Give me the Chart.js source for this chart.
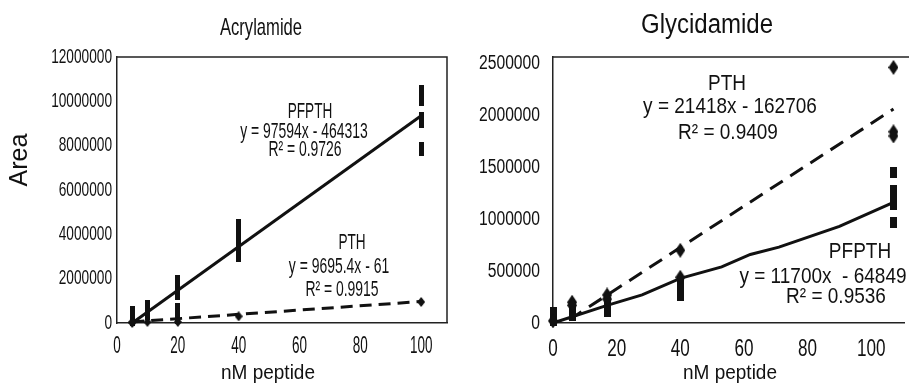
<!DOCTYPE html>
<html>
<head>
<meta charset="utf-8">
<script src="https://cdn.jsdelivr.net/npm/chart.js@4/dist/chart.umd.min.js"></script>
<style>
  body { margin: 0; background: #fff; }
  #wrap { position: relative; width: 909px; height: 388px; overflow: hidden; }
  #acryl { position: absolute; left: 0; top: 0; }
  #glycid { position: absolute; left: 452px; top: 0; }
</style>
</head>
<body>
<div id="wrap">
  <canvas id="acryl" width="452" height="388"></canvas>
  <canvas id="glycid" width="457" height="388"></canvas>
</div>
<script>
//-----------------------------------------------------------------------------
// Data
//-----------------------------------------------------------------------------

// Acrylamide: nM peptide vs peak area, replicate values per concentration
var acrylConc = [5, 10, 20, 40, 100];
var acrylPfpth = [
  [600000, 400000, 200000, 50000],
  [850000, 600000, 300000],
  [2000000, 1750000, 1450000, 1200000, 700000, 400000, 150000],
  [4500000, 4200000, 3900000, 3550000, 3200000, 2950000],
  [10550000, 10250000, 9950000, 9350000, 9000000, 8000000, 7700000]
];
var acrylPth = [
  [0, 50000],
  [50000],
  [50000],
  [300000],
  [950000]
];
var acrylPfpthFitX = [5, 100];
var acrylPfpthFitY = [0, 9350000];
var acrylPthFitX = [5, 100];
var acrylPthFitY = [50000, 970000];

// Glycidamide
var glyConc = [0, 6, 17, 40, 107];
var glyPth = [
  [20000],
  [200000, 170000],
  [270000, 230000],
  [700000, 440000],
  [2460000, 1840000, 1800000]
];
var glyPfpth = [
  [100000, 60000, 20000],
  [150000, 110000, 70000],
  [200000, 150000, 110000],
  [380000, 320000, 260000],
  [1450000, 1280000, 1200000, 1140000, 970000]
];
var glyPthFitX = [5, 107];
var glyPthFitY = [30000, 2060000];
var glyPfpthFitX = [0, 17, 28, 40, 53, 62, 71, 90, 107];
var glyPfpthFitY = [0, 170000, 270000, 430000, 540000, 660000, 730000, 930000, 1160000];

// tick labels
var acrylXTicks = [0, 20, 40, 60, 80, 100];
var acrylYTicks = [0, 2000000, 4000000, 6000000, 8000000, 10000000, 12000000];
var glyXTicks = [0, 20, 40, 60, 80, 100];
var glyYTicks = [0, 500000, 1000000, 1500000, 2000000, 2500000];

//-----------------------------------------------------------------------------
// Helpers
//-----------------------------------------------------------------------------

var INK = '#111';
var FONT = "'Liberation Sans', Arial, sans-serif";

var toPoints = function(xs, groups) {
  var pts = [];
  xs.forEach(function(x, i) {
    groups[i].forEach(function(y) { pts.push({x: x, y: y}); });
  });
  return pts;
};

var toLine = function(xs, ys) {
  return xs.map(function(x, i) { return {x: x, y: ys[i]}; });
};

// scanned markers are taller than wide, so build them as small images
var diamondMark = function(w, h) {
  var c = document.createElement('canvas');
  c.width = w; c.height = h;
  var g = c.getContext('2d');
  g.fillStyle = INK;
  g.beginPath();
  g.moveTo(w / 2, 0); g.lineTo(w, h / 2); g.lineTo(w / 2, h); g.lineTo(0, h / 2);
  g.closePath();
  g.fill();
  return c;
};

var boxMark = function(w, h) {
  var c = document.createElement('canvas');
  c.width = w; c.height = h;
  var g = c.getContext('2d');
  g.fillStyle = INK;
  g.fillRect(0, 0, w, h);
  return c;
};

// the scan's lettering is narrow and tall: squeeze/stretch the glyphs
var drawText = function(ctx, t) {
  ctx.save();
  ctx.translate(t.x, t.y);
  if (t.rotate) ctx.rotate(t.rotate);
  ctx.scale(t.sx || 1, t.sy || 1);
  ctx.font = t.size + 'px ' + FONT;
  ctx.fillStyle = INK;
  ctx.textAlign = t.align || 'center';
  ctx.textBaseline = 'middle';
  ctx.fillText(t.text, 0, 0);
  ctx.restore();
};

// titles, equations, tick labels and frame lines
var decorPlugin = {
  id: 'decor',
  afterDraw: function(chart, args, opts) {
    var ctx = chart.ctx, a = chart.chartArea;
    var xs = chart.scales.x, ys = chart.scales.y;

    ctx.save();
    ctx.strokeStyle = '#222';
    ctx.lineWidth = 1.5;
    ctx.beginPath();
    ctx.moveTo(a.left, a.top);
    ctx.lineTo(opts.rightBorder ? a.right : chart.width, a.top);
    if (opts.rightBorder) {
      ctx.lineTo(a.right, a.bottom);
    }
    ctx.stroke();
    ctx.restore();

    xs.ticks.forEach(function(t) {
      drawText(ctx, {
        text: String(t.value), x: xs.getPixelForValue(t.value), y: opts.xLabel.y,
        size: opts.xLabel.size, sx: opts.xLabel.sx, sy: opts.xLabel.sy
      });
    });
    ys.ticks.forEach(function(t) {
      drawText(ctx, {
        text: String(t.value), x: a.left - opts.yLabel.pad, y: ys.getPixelForValue(t.value),
        size: opts.yLabel.size, sx: opts.yLabel.sx, sy: opts.yLabel.sy, align: 'right'
      });
    });

    (opts.texts || []).forEach(function(t) { drawText(ctx, t); });
  }
};

var setTicks = function(list) {
  return function(scale) {
    scale.ticks = list.map(function(v) { return {value: v}; });
  };
};

var buildChart = function(el, cfg) {
  var lineSet = function(data, dash) {
    return {
      data: data, showLine: true, pointRadius: 0, borderColor: INK,
      borderWidth: 3, borderDash: dash, clip: false
    };
  };
  var markSet = function(data, mark) {
    return {
      data: data, pointStyle: mark, pointRadius: 4, clip: false,
      backgroundColor: INK, borderColor: INK
    };
  };

  return new Chart(el, {
    type: 'scatter',
    data: {
      datasets: [
        markSet(cfg.diamonds, cfg.diamondMark),
        markSet(cfg.boxes, cfg.boxMark),
        lineSet(cfg.solid, []),
        lineSet(cfg.dashed, cfg.dash)
      ]
    },
    options: {
      responsive: false,
      animation: false,
      layout: { padding: { top: 57, right: cfg.padRight, left: 0, bottom: 0 } },
      plugins: {
        legend: { display: false },
        tooltip: { enabled: false },
        decor: {
          texts: cfg.texts, rightBorder: cfg.rightBorder,
          xLabel: cfg.xLabel, yLabel: cfg.yLabel
        }
      },
      scales: {
        x: {
          type: 'linear', min: 0, max: cfg.xMax,
          grid: { display: false, drawTicks: false },
          border: { display: true, color: '#222', width: 1.5 },
          ticks: { display: false },
          afterBuildTicks: setTicks(cfg.xTicks),
          afterFit: function(s) { s.height = 65; }
        },
        y: {
          min: 0, max: cfg.yMax,
          grid: { display: false, drawTicks: false },
          border: { display: true, color: '#222', width: 1.5 },
          ticks: { display: false },
          afterBuildTicks: setTicks(cfg.yTicks),
          afterFit: function(s) { s.width = cfg.yWidth; }
        }
      }
    },
    plugins: [decorPlugin]
  });
};

//-----------------------------------------------------------------------------
// Acrylamide
//-----------------------------------------------------------------------------

buildChart(document.getElementById('acryl'), {
  diamonds: toPoints(acrylConc, acrylPth),
  boxes: toPoints(acrylConc, acrylPfpth),
  solid: toLine(acrylPfpthFitX, acrylPfpthFitY),
  dashed: toLine(acrylPthFitX, acrylPthFitY),
  diamondMark: diamondMark(8, 10),
  boxMark: boxMark(5, 8),
  dash: [12, 7],
  xMax: 108.5, yMax: 12000000,
  xTicks: acrylXTicks, yTicks: acrylYTicks,
  xLabel: { y: 347, size: 18, sx: 0.75, sy: 1.3 },
  yLabel: { pad: 5, size: 18, sx: 0.76, sy: 1.12 },
  yWidth: 117, padRight: 4, rightBorder: true,
  texts: [
    {text: 'Acrylamide', x: 261, y: 28, size: 20, sx: 0.83, sy: 1.2},
    {text: 'Area', x: 20, y: 160, size: 25, rotate: -Math.PI / 2},
    {text: 'nM peptide', x: 268, y: 373, size: 19, sy: 1.1},
    {text: 'PFPTH', x: 310, y: 112, size: 17, sx: 0.8, sy: 1.3},
    {text: 'y = 97594x - 464313', x: 304, y: 132, size: 17, sx: 0.82, sy: 1.3},
    {text: 'R\u00b2 = 0.9726', x: 305, y: 150, size: 17, sx: 0.82, sy: 1.3},
    {text: 'PTH', x: 352, y: 243, size: 17, sx: 0.8, sy: 1.3},
    {text: 'y = 9695.4x - 61', x: 339, y: 267, size: 17, sx: 0.82, sy: 1.3},
    {text: 'R\u00b2 = 0.9915', x: 342, y: 290, size: 17, sx: 0.82, sy: 1.3}
  ]
});

//-----------------------------------------------------------------------------
// Glycidamide
//-----------------------------------------------------------------------------

buildChart(document.getElementById('glycid'), {
  diamonds: toPoints(glyConc, glyPth),
  boxes: toPoints(glyConc, glyPfpth),
  solid: toLine(glyPfpthFitX, glyPfpthFitY),
  dashed: toLine(glyPthFitX, glyPthFitY),
  diamondMark: diamondMark(10, 15),
  boxMark: boxMark(7, 11),
  dash: [15, 9],
  xMax: 110.3, yMax: 2560000,
  xTicks: glyXTicks, yTicks: glyYTicks,
  xLabel: { y: 349, size: 19, sx: 0.9, sy: 1.3 },
  yLabel: { pad: 13, size: 18, sx: 0.87, sy: 1.16 },
  yWidth: 101, padRight: 0, rightBorder: false,
  texts: [
    {text: 'Glycidamide', x: 255, y: 25, size: 24, sy: 1.15},
    {text: 'nM peptide', x: 278, y: 373, size: 19, sy: 1.1},
    {text: 'PTH', x: 275, y: 84, size: 19, sy: 1.15},
    {text: 'y = 21418x - 162706', x: 278, y: 107, size: 19, sy: 1.15},
    {text: 'R\u00b2 = 0.9409', x: 276, y: 133, size: 19, sy: 1.15},
    {text: 'PFPTH', x: 408, y: 252, size: 19, sy: 1.15},
    {text: 'y = 11700x  - 64849', x: 371, y: 277, size: 19, sy: 1.15},
    {text: 'R\u00b2 = 0.9536', x: 384, y: 297, size: 19, sy: 1.15}
  ]
});
</script>
</body>
</html>
